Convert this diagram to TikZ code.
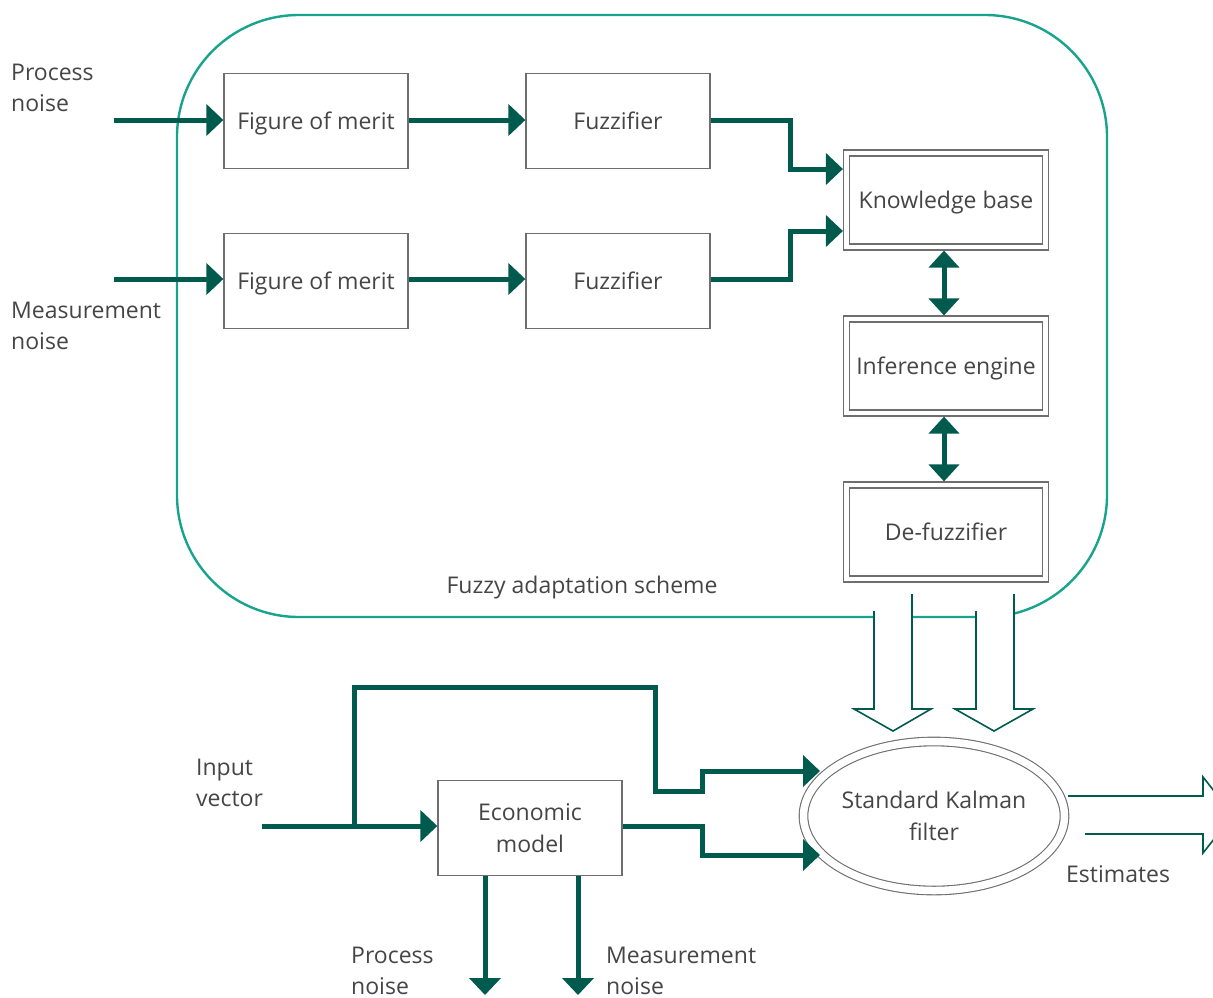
\documentclass[tikz,border=0pt]{standalone}
\usepackage{fontspec}
\setmainfont{Open Sans}
\usetikzlibrary{arrows.meta,shapes.geometric}
\definecolor{flow}{HTML}{005A4E}
\definecolor{scheme}{HTML}{17A38C}
\definecolor{boxline}{HTML}{6E6E6E}
\definecolor{txt}{HTML}{454545}
\tikzset{
  lbl/.style={text=txt,font=\fontsize{23}{31.5}\selectfont,inner sep=0pt,align=left},
  oneline/.style={text height=17.5pt,text depth=0pt},
  plainbox/.style={draw=boxline,line width=1.3pt,fill=white,minimum width=184pt,minimum height=95pt,inner sep=0pt,text=txt,font=\fontsize{23}{31.5}\selectfont,align=center},
  dblbox/.style={draw=boxline,line width=1.2pt,double=white,double distance=4.8pt,fill=white,minimum width=199pt,minimum height=94pt,inner sep=0pt,outer sep=3.6pt,text=txt,font=\fontsize{23}{31.5}\selectfont,oneline},
  kalman/.style={ellipse,draw=boxline,line width=1.1pt,double=white,double distance=7.5pt,minimum width=255pt,minimum height=149pt,inner sep=0pt,outer sep=4.8pt,text=txt,font=\fontsize{23}{31.5}\selectfont,align=center},
  flowarrow/.style={draw=flow,line width=5pt,-{Triangle[length=17pt,width=31pt]}},
  flowboth/.style={draw=flow,line width=5pt,{Triangle[length=17pt,width=30pt]}-{Triangle[length=17pt,width=30pt]}},
  flowline/.style={draw=flow,line width=5pt},
  hollow/.style={draw=flow,line width=1.6pt,line join=miter},
}
\begin{document}
\begin{tikzpicture}[x=1pt,y=-1pt]
\useasboundingbox (0,0) rectangle (1213,997);
\clip (0,0) rectangle (1213,997);

% fuzzy adaptation scheme
\draw[scheme,line width=2.4pt,rounded corners=122pt] (177,15) rectangle (1107,617);
\node[lbl] (schemelabel) at (582,588) {Fuzzy adaptation scheme};

% boxes
\node[plainbox,oneline] (fom1) at (316,121) {Figure of merit};
\node[plainbox,oneline] (fuz1) at (618,121) {Fuzzifier};
\node[plainbox,oneline] (fom2) at (316,281) {Figure of merit};
\node[plainbox,oneline] (fuz2) at (618,281) {Fuzzifier};
\node[dblbox] (kb) at (946,200) {Knowledge base};
\node[dblbox] (ie) at (946,366) {Inference engine};
\node[dblbox] (dfz) at (946,532) {De-fuzzifier};
\node[kalman] (skf) at (934,816) {Standard Kalman\\filter};
\node[plainbox] (eco) at (530,828) {Economic\\model};

% labels
\node[lbl,anchor=west] (pn1) at (11,88) {Process\\noise};
\node[lbl,anchor=west] (mn1) at (11,326) {Measurement\\noise};
\node[lbl,anchor=west] (iv) at (196,783) {Input\\vector};
\node[lbl,anchor=west] (pn2) at (351,971) {Process\\noise};
\node[lbl,anchor=west] (mn2) at (606,971) {Measurement\\noise};
\node[lbl,anchor=west] (est) at (1066,874) {Estimates};

% coordinates
\coordinate (in1) at (114,120);
\coordinate (in2) at (114,279);
\coordinate (in3) at (262,826);
\coordinate (br) at (354,826);
\coordinate (k1) at (820,771);
\coordinate (k2) at (820,855);
\coordinate (o1) at (485,995);
\coordinate (o2) at (578,995);

% fuzzy flows
\draw[flowarrow] (in1) -- (fom1.west |- in1);
\draw[flowarrow] (fom1.east |- in1) -- (fuz1.west |- in1);
\draw[flowarrow] (fuz1.east |- in1) -- (790,120) -- (790,169) -- (kb.west |- 0,169);
\draw[flowarrow] (in2) -- (fom2.west |- in2);
\draw[flowarrow] (fom2.east |- in2) -- (fuz2.west |- in2);
\draw[flowarrow] (fuz2.east |- in2) -- (790,279) -- (790,231) -- (kb.west |- 0,231);
\draw[flowboth] (kb.south -| 944,0) -- (ie.north -| 944,0);
\draw[flowboth] (ie.south -| 944,0) -- (dfz.north -| 944,0);

% hollow arrows from de-fuzzifier to Kalman filter
\fill[white] (874,594) -- (874,709) -- (854,709) -- (893,731) -- (931,709) -- (912,709) -- (912,594) -- cycle;
\draw[hollow] (874,611) -- (874,709) -- (854,709) -- (893,731) -- (931,709) -- (912,709) -- (912,594);
\fill[white] (976,594) -- (976,709) -- (955,709) -- (994,731) -- (1033,709) -- (1014,709) -- (1014,594) -- cycle;
\draw[hollow] (976,611) -- (976,709) -- (955,709) -- (994,731) -- (1033,709) -- (1014,709) -- (1014,594);

% estimates hollow arrow
\draw[hollow] (1068,796) -- (1203,796) -- (1203,777) -- (1233,815) -- (1203,853) -- (1203,834) -- (1085,834);

% economic flows
\draw[flowarrow] (in3) -- (eco.west |- in3);
\draw[flowline] (br) -- (354,687) -- (655,687) -- (655,791) -- (702,791) -- (702,771) -- (760,771);
\draw[flowarrow] (700,771) -- (k1);
\draw[flowarrow] (eco.east |- in3) -- (702,826) -- (702,855) -- (k2);
\draw[flowarrow] (eco.south -| o1) -- (o1);
\draw[flowarrow] (eco.south -| o2) -- (o2);
\end{tikzpicture}
\end{document}
